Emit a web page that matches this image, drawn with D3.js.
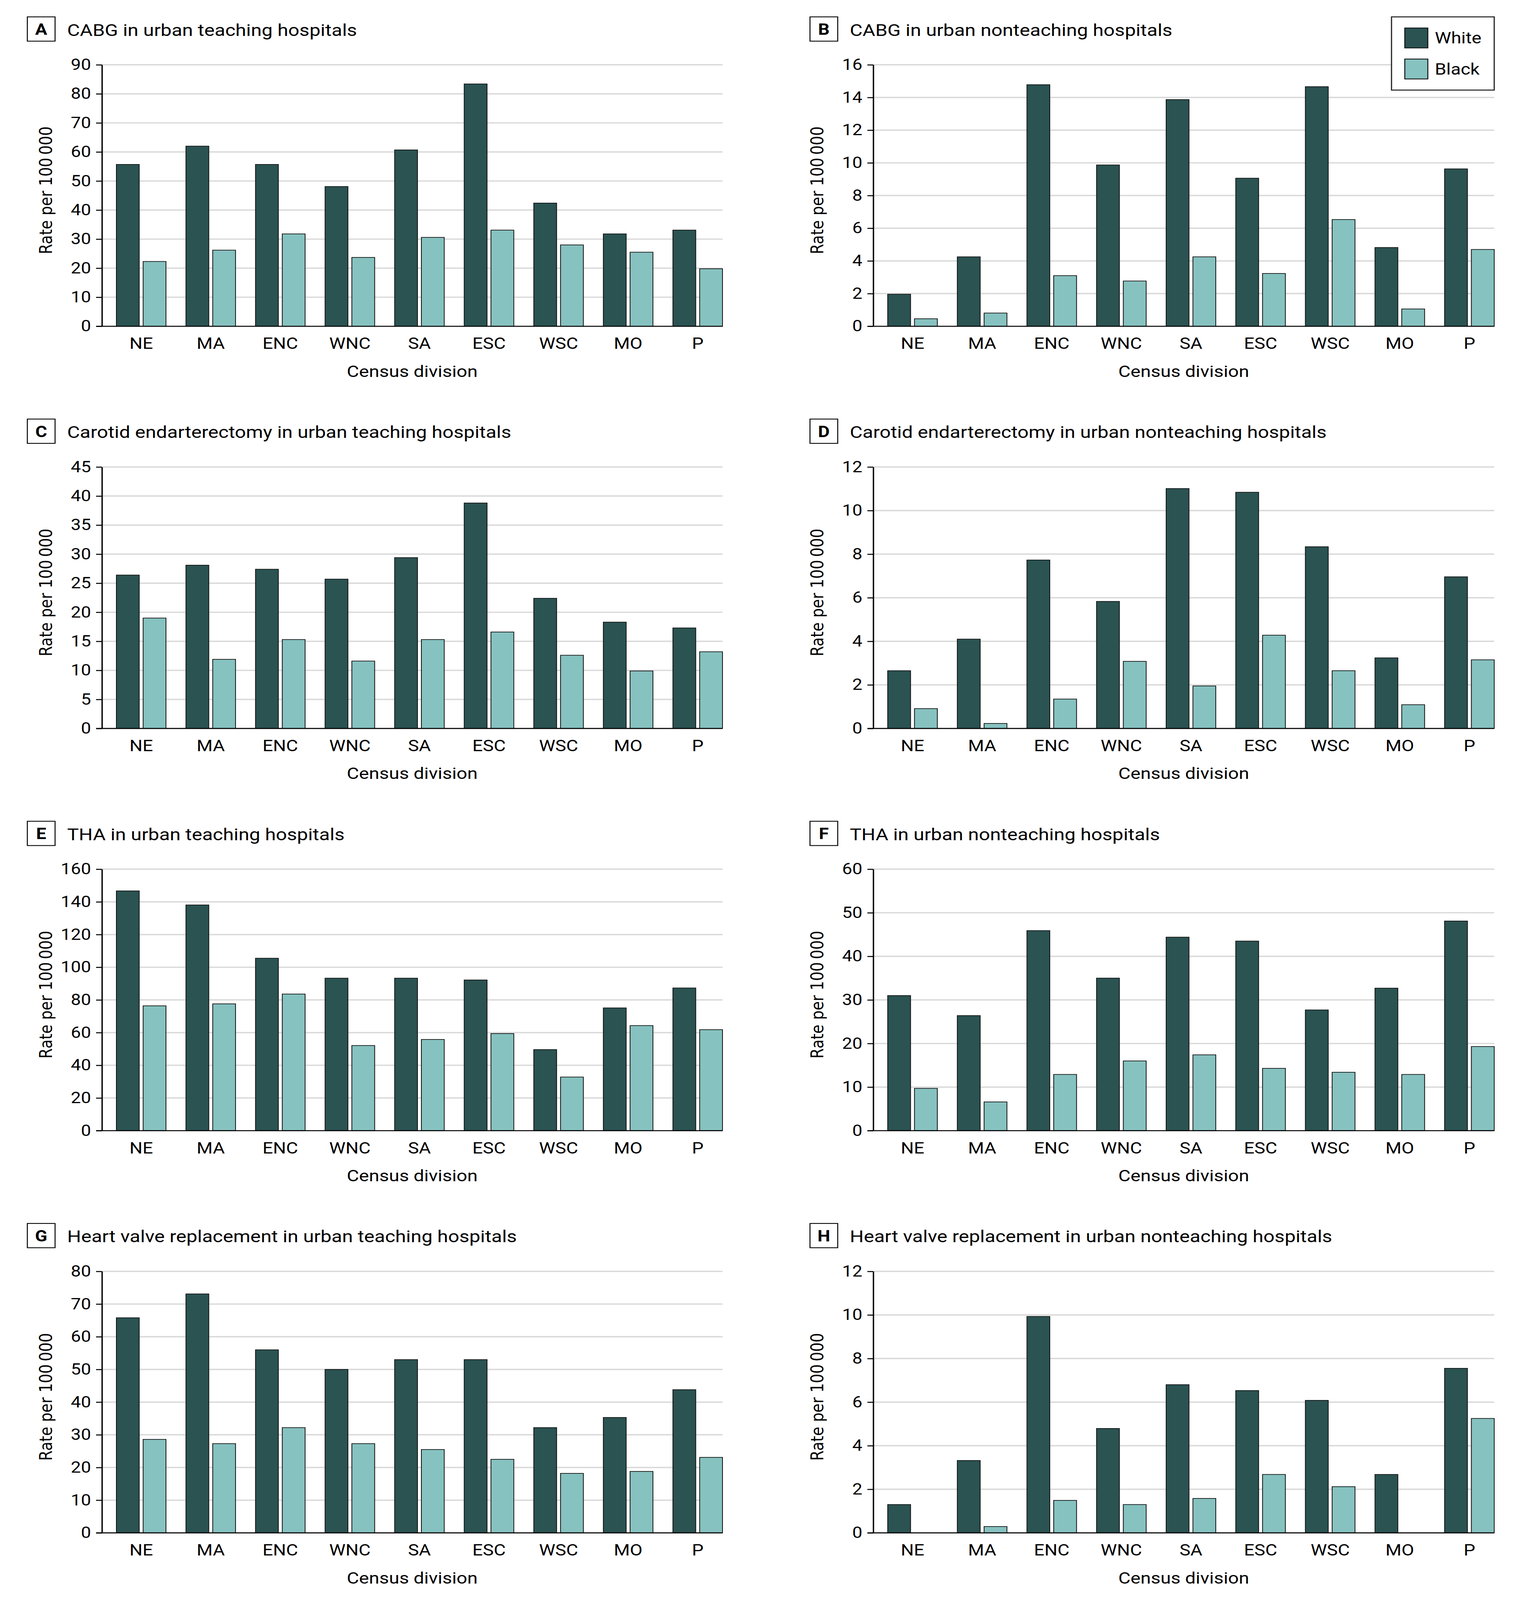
<!DOCTYPE html>
<html>
<head>
<meta charset="utf-8">
<script src="https://cdn.jsdelivr.net/npm/d3@7"></script>
<style>
  html, body { margin: 0; padding: 0; background: #fff; overflow: hidden; }
  #chart { display: block; width: 100vw; height: 100vh; }
  text { font-family: Roboto, "Liberation Sans", sans-serif; fill: #000; }
</style>
</head>
<body>
<svg id="chart" viewBox="0 0 3892 4742" preserveAspectRatio="none"></svg>
<script>
// Census divisions on the x axis
var divisions = ['NE', 'MA', 'ENC', 'WNC', 'SA', 'ESC', 'WSC', 'MO', 'P'];
var groups = ['White', 'Black'];

var panelLetters = ['A', 'B', 'C', 'D', 'E', 'F', 'G', 'H'];
var panelTitles = [
    'CABG in urban teaching hospitals',
    'CABG in urban nonteaching hospitals',
    'Carotid endarterectomy in urban teaching hospitals',
    'Carotid endarterectomy in urban nonteaching hospitals',
    'THA in urban teaching hospitals',
    'THA in urban nonteaching hospitals',
    'Heart valve replacement in urban teaching hospitals',
    'Heart valve replacement in urban nonteaching hospitals'
];
var yMax = [90, 16, 45, 12, 160, 60, 80, 12];
var yStep = [10, 2, 5, 2, 20, 10, 10, 2];

// Rates per 100 000
var whiteA = [55.7, 62.0, 55.7, 48.1, 60.7, 83.4, 42.4, 31.8, 33.1];
var blackA = [22.3, 26.2, 31.8, 23.7, 30.6, 33.1, 28.0, 25.5, 19.8];
var whiteB = [1.96, 4.25, 14.78, 9.87, 13.87, 9.06, 14.66, 4.82, 9.63];
var blackB = [0.46, 0.81, 3.10, 2.77, 4.25, 3.23, 6.53, 1.06, 4.70];
var whiteC = [26.4, 28.1, 27.4, 25.7, 29.4, 38.8, 22.4, 18.3, 17.3];
var blackC = [19.0, 11.9, 15.3, 11.6, 15.3, 16.6, 12.6, 9.9, 13.2];
var whiteD = [2.65, 4.10, 7.73, 5.83, 11.01, 10.84, 8.34, 3.24, 6.96];
var blackD = [0.91, 0.23, 1.35, 3.08, 1.95, 4.28, 2.65, 1.09, 3.15];
var whiteE = [146.7, 138.1, 105.5, 93.3, 93.3, 92.2, 49.6, 75.1, 87.3];
var blackE = [76.4, 77.6, 83.6, 52.1, 55.8, 59.4, 32.8, 64.3, 61.8];
var whiteF = [31.0, 26.4, 45.9, 35.0, 44.4, 43.5, 27.7, 32.7, 48.1];
var blackF = [9.7, 6.6, 12.9, 16.0, 17.4, 14.3, 13.4, 12.9, 19.3];
var whiteG = [65.8, 73.1, 56.0, 50.0, 53.0, 53.0, 32.2, 35.3, 43.8];
var blackG = [28.6, 27.3, 32.2, 27.3, 25.5, 22.5, 18.2, 18.8, 23.1];
var whiteH = [1.30, 3.32, 9.93, 4.79, 6.80, 6.53, 6.08, 2.68, 7.55];
var blackH = [null, 0.29, 1.49, 1.30, 1.58, 2.68, 2.12, null, 5.25];

var whiteSeries = [whiteA, whiteB, whiteC, whiteD, whiteE, whiteF, whiteG, whiteH];
var blackSeries = [blackA, blackB, blackC, blackD, blackE, blackF, blackG, blackH];

var color = d3.scaleOrdinal().domain(groups).range(['#2a5352', '#86c2c0']);

var svg = d3.select('#chart');

// Layout of the 2 x 4 grid of panels
var colX = [0, 2004];
var axisX = [261, 2236];
var rightX = [1850, 3826];
var firstTop = 192, rowPitch = 1192, plotH = 775;

panelLetters.forEach(function(letter, i) {
    var col = i % 2, row = Math.floor(i / 2);
    var top = firstTop + row * rowPitch;
    var bottom = top + plotH;
    var left = axisX[col], right = rightX[col];

    var g = svg.append('g');

    // Panel letter box and title
    g.append('rect')
        .attr('x', colX[col] + 70).attr('y', top - 142)
        .attr('width', 71).attr('height', 72)
        .attr('fill', 'none').attr('stroke', '#000').attr('stroke-width', 2.5);
    g.append('text')
        .attr('x', colX[col] + 105.5).attr('y', top - 89)
        .attr('text-anchor', 'middle')
        .style('font-size', '46px').style('font-weight', 'bold')
        .text(letter);
    g.append('text')
        .attr('x', colX[col] + 172).attr('y', top - 86)
        .style('font-size', '50px')
        .text(panelTitles[i]);

    var ticks = d3.range(0, yMax[i] + yStep[i] / 2, yStep[i]);

    var y = d3.scaleLinear().domain([0, yMax[i]]).range([bottom, top]);
    var x0 = d3.scaleBand().domain(divisions).range([left + 37, right]).paddingInner(0.287).paddingOuter(0);
    var x1 = d3.scaleBand().domain(groups).range([0, x0.bandwidth()]).paddingInner(0.146);

    // Gridlines
    g.append('g').selectAll('line')
        .data(ticks.filter(function(t) { return t > 0; }))
        .enter().append('line')
        .attr('x1', left).attr('x2', right)
        .attr('y1', function(d) { return y(d); })
        .attr('y2', function(d) { return y(d); })
        .attr('stroke', '#d9d9d9').attr('stroke-width', 4);

    // Bars
    var rows = divisions.map(function(d, j) {
        return { division: d, values: [
            { key: 'White', value: whiteSeries[i][j] },
            { key: 'Black', value: blackSeries[i][j] }
        ] };
    });
    g.append('g').selectAll('g')
        .data(rows)
        .enter().append('g')
        .attr('transform', function(d) { return 'translate(' + x0(d.division) + ',0)'; })
        .selectAll('rect')
        .data(function(d) { return d.values.filter(function(v) { return v.value != null && v.value > 0; }); })
        .enter().append('rect')
        .attr('x', function(d) { return x1(d.key); })
        .attr('y', function(d) { return y(d.value); })
        .attr('width', x1.bandwidth())
        .attr('height', function(d) { return bottom - y(d.value); })
        .attr('fill', function(d) { return color(d.key); })
        .attr('stroke', '#111').attr('stroke-width', 2);

    // Y axis
    var yAxis = g.append('g')
        .attr('transform', 'translate(' + left + ',0)')
        .call(d3.axisLeft(y).tickValues(ticks).tickSize(15).tickSizeOuter(0).tickPadding(13));
    yAxis.select('.domain').attr('stroke', '#000').attr('stroke-width', 3.5);
    yAxis.selectAll('.tick line').attr('stroke', '#000').attr('stroke-width', 3);
    yAxis.selectAll('.tick text')
        .style('font-size', '46px')
        .style('font-family', 'Roboto, sans-serif');

    // Baseline
    g.append('line')
        .attr('x1', left - 15).attr('x2', right)
        .attr('y1', bottom).attr('y2', bottom)
        .attr('stroke', '#000').attr('stroke-width', 3);

    // X axis labels
    var xAxis = g.append('g')
        .attr('transform', 'translate(0,' + bottom + ')')
        .call(d3.axisBottom(x0).tickSize(0).tickPadding(34));
    xAxis.select('.domain').remove();
    xAxis.selectAll('.tick text')
        .style('font-size', '47px')
        .style('font-family', 'Roboto, sans-serif');

    g.append('text')
        .attr('x', (left + right) / 2).attr('y', bottom + 150)
        .attr('text-anchor', 'middle')
        .style('font-size', '48px')
        .text('Census division');

    g.append('text')
        .attr('transform', 'translate(' + (left - 128) + ',' + (top + 372) + ') rotate(-90)')
        .attr('text-anchor', 'middle')
        .style('font-family', '"DejaVu Sans", sans-serif')
        .style('font-size', '44px')
        .text('Rate per 100\u2009000');
});

// Legend (top right, inside panel B area)
var legend = svg.append('g');
legend.append('rect')
    .attr('x', 3563).attr('y', 50).attr('width', 263).attr('height', 217)
    .attr('fill', '#fff').attr('stroke', '#222').attr('stroke-width', 3);
groups.forEach(function(k, j) {
    legend.append('rect')
        .attr('x', 3597).attr('y', 83 + j * 92)
        .attr('width', 59).attr('height', 59)
        .attr('fill', color(k)).attr('stroke', '#111').attr('stroke-width', 2.5);
    legend.append('text')
        .attr('x', 3674).attr('y', 128 + j * 93)
        .style('font-size', '47px')
        .text(k);
});
</script>
</body>
</html>
